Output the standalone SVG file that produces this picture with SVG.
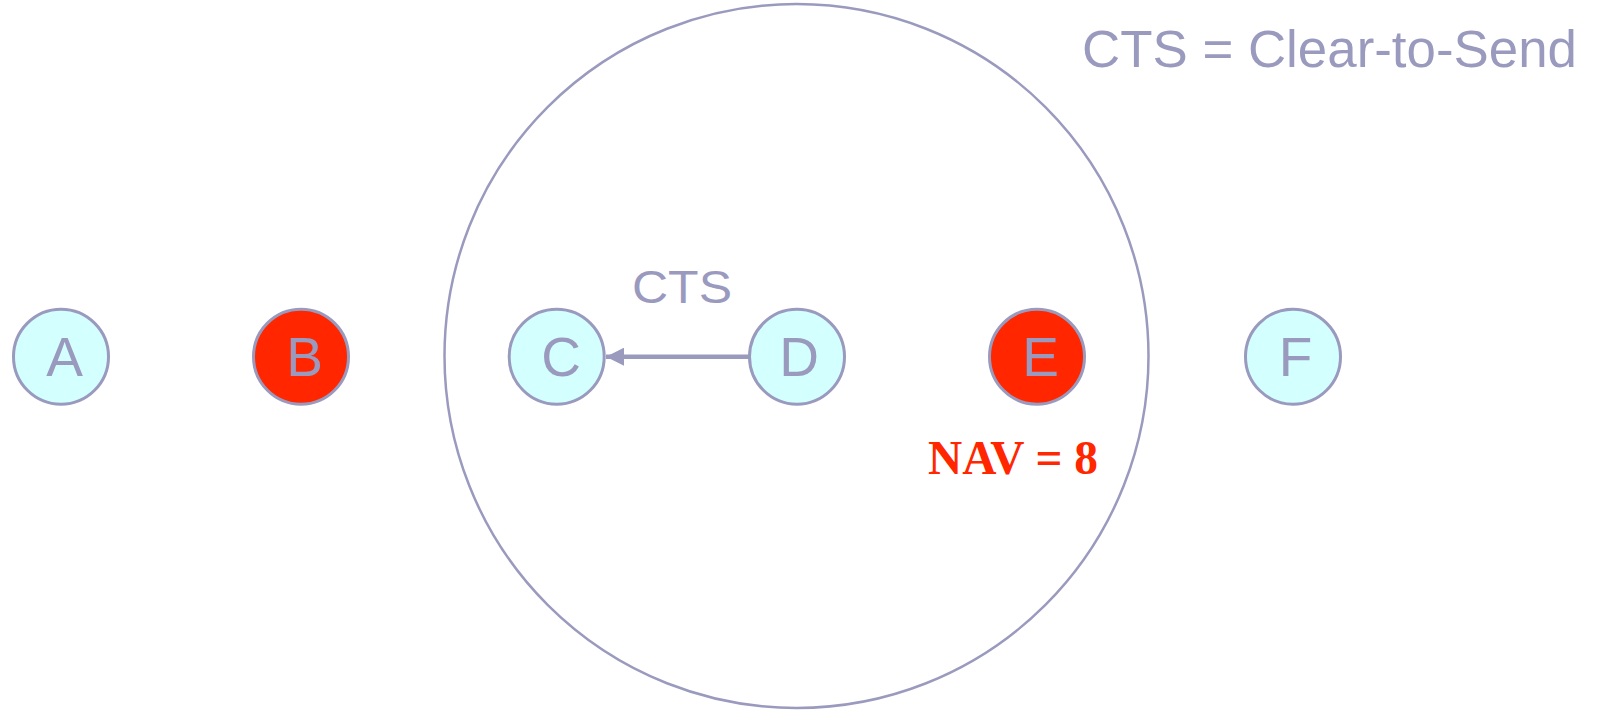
<svg xmlns="http://www.w3.org/2000/svg" width="1597" height="710" viewBox="0 0 1597 710">
<defs>
<style>
.node{stroke:#9a9abf;stroke-width:3}
.cyan{fill:#d4ffff}
.red{fill:#ff2600}
.lbl{font-family:"Liberation Sans",Arial,sans-serif;font-size:55px;fill:#9a9abf;text-anchor:middle}
.txt{font-family:"Liberation Sans",Arial,sans-serif;fill:#9a9abf}
</style>
<marker id="ah" markerUnits="userSpaceOnUse" markerWidth="20" markerHeight="18" refX="18" refY="9" orient="auto">
<path d="M0,0 L18,9 L0,18 Z" fill="#9a9abf"/>
</marker>
</defs>
<rect width="1597" height="710" fill="#ffffff"/>
<g id="range">
<circle cx="796.5" cy="356" r="352" fill="none" stroke="#9a9abf" stroke-width="2.5"/>
</g>
<g id="connectors">
<line x1="749" y1="356.7" x2="606" y2="356.7" stroke="#9a9abf" stroke-width="4.5" marker-end="url(#ah)"/>
</g>
<g id="node-A"><circle class="node cyan" cx="61" cy="356.7" r="47.5"/><text class="lbl" x="64.5" y="376">A</text></g>
<g id="node-B"><circle class="node red" cx="301" cy="356.7" r="47.5"/><text class="lbl" x="304.5" y="376">B</text></g>
<g id="node-C"><circle class="node cyan" cx="556.7" cy="356.7" r="47.5"/><text class="lbl" x="561" y="376">C</text></g>
<g id="node-D"><circle class="node cyan" cx="797" cy="356.7" r="47.5"/><text class="lbl" x="799" y="376">D</text></g>
<g id="node-E"><circle class="node red" cx="1037" cy="356.7" r="47.5"/><text class="lbl" x="1040.5" y="376">E</text></g>
<g id="node-F"><circle class="node cyan" cx="1293" cy="356.7" r="47.5"/><text class="lbl" x="1295.5" y="376">F</text></g>
<g id="labels">
<text class="txt" x="632" y="302.7" font-size="46" textLength="100" lengthAdjust="spacingAndGlyphs">CTS</text>
<text x="928" y="474.3" font-family="Liberation Serif,'Times New Roman',serif" font-weight="bold" font-size="48" fill="#ff2600" textLength="170" lengthAdjust="spacingAndGlyphs">NAV = 8</text>
<text class="txt" x="1082" y="67" font-size="51" textLength="495" lengthAdjust="spacingAndGlyphs">CTS = Clear-to-Send</text>
</g>
</svg>
